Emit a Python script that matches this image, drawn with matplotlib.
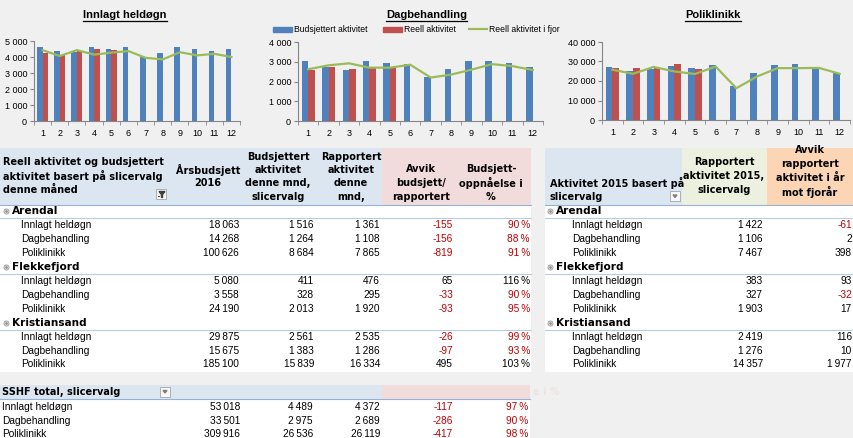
import numpy as np
import matplotlib.pyplot as plt
from matplotlib.patches import Rectangle, Polygon

plt.rcParams['font.family'] = ['Liberation Sans', 'DejaVu Sans']

# ---- chart data ----
months = np.arange(1, 13)
inn_budsjett = [4600, 4350, 4300, 4650, 4520, 4600, 4000, 4230, 4600, 4520, 4400, 4480]
inn_reell = [4270, 4100, 4370, 4480, 4420]
inn_fjor = [4430, 4060, 4430, 4150, 4270, 4370, 3950, 3850, 4300, 4100, 4200, 4000]

dag_budsjett = [3020, 2720, 2570, 3020, 2960, 2880, 2210, 2620, 3020, 3020, 2920, 2710]
dag_reell = [2600, 2720, 2620, 2750, 2700]
dag_fjor = [2620, 2820, 2920, 2700, 2700, 2850, 2200, 2350, 2600, 2880, 2780, 2580]

pol_budsjett = [27300, 25000, 25900, 27800, 26700, 28300, 17400, 24200, 28200, 28700, 26900, 23900]
pol_reell = [26600, 26600, 26600, 28700, 26200]
pol_fjor = [25800, 23700, 27200, 24900, 23600, 27400, 16300, 22300, 26600, 26600, 26700, 23700]

# ---- table data ----
groups = ['Arendal', 'Flekkefjord', 'Kristiansand']
kinds = ['Innlagt heldøgn', 'Dagbehandling', 'Poliklinikk']
aarsbudsjett = [18063, 14268, 100626, 5080, 3558, 24190, 29875, 15675, 185100]
budsjett_mnd = [1516, 1264, 8684, 411, 328, 2013, 2561, 1383, 15839]
rapportert_mnd = [1361, 1108, 7865, 476, 295, 1920, 2535, 1286, 16334]
avvik = [-155, -156, -819, 65, -33, -93, -26, -97, 495]
oppnaaelse = [90, 88, 91, 116, 90, 95, 99, 93, 103]
rapportert_2015 = [1422, 1106, 7467, 383, 327, 1903, 2419, 1276, 14357]
avvik_fjor = [-61, 2, 398, 93, -32, 17, 116, 10, 1977]

tot_aars = [53018, 33501, 309916]
tot_budsjett = [4489, 2975, 26536]
tot_rapportert = [4372, 2689, 26119]
tot_avvik = [-117, -286, -417]
tot_pct = [97, 90, 98]

BLUE = '#4F81BD'
RED = '#C0504D'
GREEN = '#9BBB59'
BG = '#F0F0F0'
HBLUE = '#DCE6F1'
HPINK = '#F2DCDB'
HGREEN = '#EBF1DE'
HORANGE = '#FCD5B4'
NEG = '#C00000'
LINE = '#B8CCE4'

W, H = 854, 438
fig = plt.figure(figsize=(W / 100, H / 100), dpi=100, facecolor=BG)

# overlay axes in pixel coordinates
ov = fig.add_axes([0, 0, 1, 1])
ov.set_xlim(0, W)
ov.set_ylim(H, 0)
ov.axis('off')


def fmt(v):
    s = '{:,}'.format(abs(v)).replace(',', '\u2009')
    return ('-' if v < 0 else '') + s


def chart(left, right, top, bottom, ymax, step, budsjett, reell, fjor):
    ax = fig.add_axes([left / W, 1 - bottom / H, (right - left) / W, (bottom - top) / H])
    ax.set_facecolor('none')
    ax.bar(months - 0.16, budsjett, width=0.32, color=BLUE, zorder=2)
    ax.bar(months[:len(reell)] + 0.16, reell, width=0.32, color=RED, zorder=2)
    ax.plot(months, fjor, color=GREEN, lw=1.6, zorder=3)
    ax.set_xlim(0.5, 12.5)
    ax.set_ylim(0, ymax)
    yt = np.arange(0, ymax + 1, step)
    ax.set_yticks(yt)
    ax.set_yticklabels(['{:,}'.format(int(v)).replace(',', ' ') for v in yt], fontsize=6.5)
    ax.set_xticks(months)
    ax.set_xticklabels([str(m) for m in months], fontsize=6.5)
    ax.set_xticks(np.arange(0.5, 13, 1), minor=True)
    ax.tick_params(axis='x', which='major', length=0, pad=6)
    ax.tick_params(axis='x', which='minor', length=3, color='#868686', direction='out')
    ax.tick_params(axis='y', length=3, color='#868686', pad=2)
    for s in ['top', 'right']:
        ax.spines[s].set_visible(False)
    for s in ['left', 'bottom']:
        ax.spines[s].set_color('#868686')
        ax.spines[s].set_linewidth(0.8)
    return ax


chart(34, 240, 41, 121, 5000, 1000, inn_budsjett, inn_reell, inn_fjor)
chart(298, 543, 42, 121, 4000, 1000, dag_budsjett, dag_reell, dag_fjor)
chart(602, 850, 42, 120, 40000, 10000, pol_budsjett, pol_reell, pol_fjor)

# titles (bold, underlined)
titles = [('Innlagt heldøgn', 125), ('Dagbehandling', 427), ('Poliklinikk', 713)]
title_objs = []
for txt, x in titles:
    t = ov.text(x, 15, txt, ha='center', va='center', fontsize=8, fontweight='bold')
    title_objs.append(t)

# legend of middle chart
ov.add_patch(Rectangle((273, 26.5), 19, 5.5, color=BLUE))
ov.text(294, 29, 'Budsjettert aktivitet', fontsize=6.2, va='center')
ov.add_patch(Rectangle((383, 26.5), 19, 5.5, color=RED))
ov.text(404, 29, 'Reell aktivitet', fontsize=6.2, va='center')
ov.plot([469, 487], [29, 29], color=GREEN, lw=1.6)
ov.text(489, 29, 'Reell aktivitet i fjor', fontsize=6.2, va='center')

FS = 7.3
BOLD = dict(fontsize=7, fontweight='bold', family=['DejaVu Sans'])
GBOLD = dict(fontsize=7.6, fontweight='bold', family=['DejaVu Sans'])


def rect(x0, y0, x1, y1, c):
    ov.add_patch(Rectangle((x0, y0), x1 - x0, y1 - y0, color=c, lw=0, zorder=0))


def hline(x0, x1, y, c=LINE):
    ov.plot([x0, x1], [y, y], color=c, lw=0.8, zorder=1)


def icon_box(x, y, funnel=False):
    ov.add_patch(Rectangle((x, y), 10, 10, facecolor='#F7F7F7', edgecolor='#A6A6A6', lw=0.6, zorder=2))
    if funnel:
        ov.add_patch(Polygon([[x + 3, y + 2.5], [x + 9, y + 2.5], [x + 6.5, y + 5.5],
                              [x + 6.5, y + 8.5], [x + 5.5, y + 8.5], [x + 5.5, y + 5.5]],
                             closed=True, color='#404040', zorder=3))
        ov.plot([x + 2, x + 3.5], [y + 7, y + 7], color='#404040', lw=0.7, zorder=3)
    else:
        ov.add_patch(Polygon([[x + 3, y + 4], [x + 7, y + 4], [x + 5, y + 6.5]],
                             closed=True, color='#808080', zorder=3))


def group_icon(x, y):
    ov.plot(x, y, marker='o', ms=3.6, mfc='white', mec='#8C8C8C', mew=0.6, zorder=3)
    ov.plot(x, y, marker='o', ms=1.0, color='#8C8C8C', zorder=4)


def val(x, y, v, suffix=''):
    c = NEG if v < 0 else 'black'
    ov.text(x, y, fmt(v) + suffix, ha='right', va='center', fontsize=FS, color=c)


# ---- left table ----
rect(0, 148, 382, 205, HBLUE)
rect(382, 148, 531, 205, HPINK)
rect(0, 205, 531, 372, 'white')
for i, line in enumerate(['Reell aktivitet og budsjettert', 'aktivitet basert på slicervalg',
                          'denne måned']):
    ov.text(3, 162 + 14 * i, line, va='center', **BOLD)
icon_box(156, 189, funnel=True)
heads = [(208, [(170, 'Årsbudsjett'), (183, '2016')]),
         (278, [(157, 'Budsjettert'), (170, 'aktivitet'), (183, 'denne mnd,'), (197, 'slicervalg')]),
         (351, [(157, 'Rapportert'), (170, 'aktivitet'), (183, 'denne'), (197, 'mnd,')]),
         (421, [(169, 'Avvik'), (183, 'budsjett/'), (197, 'rapportert')]),
         (491, [(169, 'Budsjett-'), (183, 'oppnåelse i'), (197, '%')])]
for x, lines in heads:
    for y, s in lines:
        ov.text(x, y, s, ha='center', va='center', **BOLD)
hline(0, 531, 205, '#95B3D7')

# ---- right table ----
rect(545, 148, 682, 205, HBLUE)
rect(682, 148, 767, 205, HGREEN)
rect(767, 148, 854, 205, HORANGE)
rect(545, 205, 854, 372, 'white')
ov.text(550, 183, 'Aktivitet 2015 basert på', va='center', **BOLD)
ov.text(550, 197, 'slicervalg', va='center', **BOLD)
icon_box(670, 191)
for y, s in [(162, 'Rapportert'), (176, 'aktivitet 2015,'), (190, 'slicervalg')]:
    ov.text(724, y, s, ha='center', va='center', **BOLD)
for y, s in [(150, 'Avvik'), (164, 'rapportert'), (178, 'aktivitet i år'), (192, 'mot fjorår')]:
    ov.text(810, y, s, ha='center', va='center', **BOLD)
hline(545, 854, 205, '#95B3D7')

# ---- rows of both tables ----
ROW = 13.95
for g, name in enumerate(groups):
    yg = 211 + g * 4 * ROW
    # left
    group_icon(6, yg)
    ov.text(12, yg, name, va='center', **GBOLD)
    hline(0, 531, yg + 7)
    # right
    group_icon(550, yg)
    ov.text(556, yg, name, va='center', **GBOLD)
    hline(545, 854, yg + 7)
    for k, kind in enumerate(kinds):
        i = g * 3 + k
        y = yg + (k + 1) * ROW
        ov.text(21, y, kind, fontsize=FS, va='center')
        val(239, y, aarsbudsjett[i])
        val(314, y, budsjett_mnd[i])
        val(380, y, rapportert_mnd[i])
        val(453, y, avvik[i])
        ov.text(530, y, '{}\u2009%'.format(oppnaaelse[i]), ha='right', va='center', fontsize=FS,
                color=NEG if oppnaaelse[i] < 100 else 'black')
        ov.text(572, y, kind, fontsize=FS, va='center')
        val(763, y, rapportert_2015[i])
        val(852, y, avvik_fjor[i])

# ---- total table ----
rect(0, 385, 382, 398.5, HBLUE)
rect(382, 385, 530, 398.5, HPINK)
rect(0, 399, 530, H, 'white')
ov.text(2, 392, 'SSHF total, slicervalg', va='center', **BOLD)
ov.text(533, 392, 'e i %', va='center', color='#ECE3E3', **BOLD)
icon_box(160, 386.5)
hline(0, 530, 399, '#95B3D7')
for k, kind in enumerate(kinds):
    y = 407 + k * 13.6
    ov.text(2, y, kind, fontsize=FS, va='center')
    val(240, y, tot_aars[k])
    val(313, y, tot_budsjett[k])
    val(380, y, tot_rapportert[k])
    val(453, y, tot_avvik[k])
    ov.text(528, y, '{}\u2009%'.format(tot_pct[k]), ha='right', va='center', fontsize=FS,
            color=NEG if tot_pct[k] < 100 else 'black')

# underline titles
fig.canvas.draw()
r = fig.canvas.get_renderer()
for t in title_objs:
    bb = t.get_window_extent(r)
    ov.plot([bb.x0, bb.x1], [21, 21], color='black', lw=0.9)

fig.savefig('out.png', dpi=100, facecolor=BG)
